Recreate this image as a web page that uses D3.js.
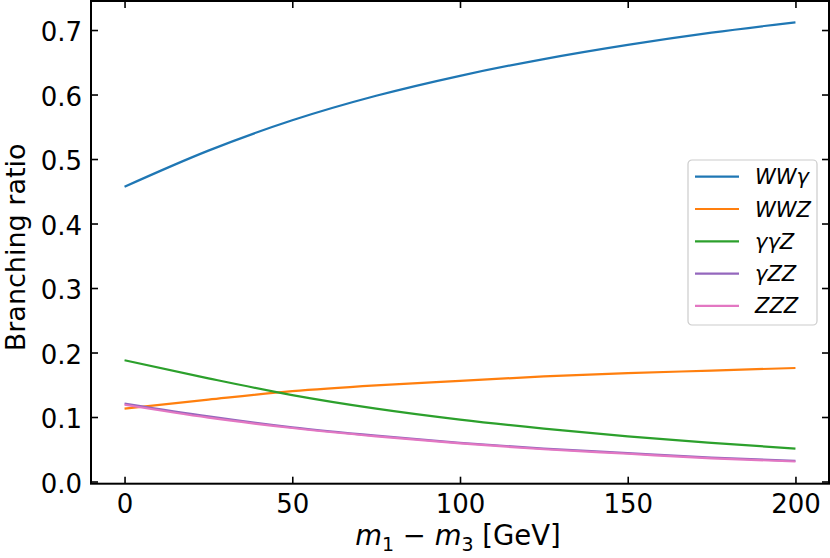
<!DOCTYPE html>
<html>
<head>
<meta charset="utf-8">
<script src="https://cdn.jsdelivr.net/npm/d3@7"></script>
<style>
body { margin: 0; background: #fff; }
svg { display: block; font-family: "DejaVu Sans", sans-serif; }
</style>
</head>
<body>
<svg id="chart" width="830" height="558"></svg>
<script>
// mass splitting m1 - m3 in GeV
var massDiff = [0, 25, 50, 75, 100, 125, 150, 175, 200];

var brWWgamma = [0.457, 0.513, 0.560, 0.598, 0.629, 0.655, 0.677, 0.696, 0.712];
var brWWZ     = [0.113, 0.127, 0.140, 0.149, 0.156, 0.163, 0.168, 0.172, 0.176];
var brGGZ     = [0.188, 0.160, 0.134, 0.113, 0.096, 0.082, 0.070, 0.060, 0.051];
var brGZZ     = [0.121, 0.101, 0.084, 0.071, 0.060, 0.051, 0.044, 0.037, 0.032];
var brZZZ     = [0.119, 0.099, 0.083, 0.070, 0.059, 0.050, 0.043, 0.036, 0.031];

var seriesNames  = ["WWγ", "WWZ", "γγZ", "γZZ", "ZZZ"];
var seriesColors = ["#1f77b4", "#ff7f0e", "#2ca02c", "#9467bd", "#e377c2"];
var seriesValues = [brWWgamma, brWWZ, brGGZ, brGZZ, brZZZ];

var xTicks = [0, 50, 100, 150, 200];
var yTicks = [0.0, 0.1, 0.2, 0.3, 0.4, 0.5, 0.6, 0.7];

var plotLeft = 91, plotRight = 829, plotTop = 1, plotBottom = 483.7;
var tickFont = 26;

var svg = d3.select("#chart");

var xScale = d3.scaleLinear().domain([-10, 210]).range([plotLeft, plotRight]);
var yScale = d3.scaleLinear().domain([-0.0034, 0.745]).range([plotBottom, plotTop]);

// lines
var lineGen = d3.line()
    .x(function (d) { return xScale(d.x); })
    .y(function (d) { return yScale(d.y); })
    .curve(d3.curveMonotoneX);

var lines = svg.append("g").attr("id", "lines");
seriesValues.forEach(function (vals, i) {
    var pts = massDiff.map(function (m, j) { return { x: m, y: vals[j] }; });
    lines.append("path")
        .datum(pts)
        .attr("fill", "none")
        .attr("stroke", seriesColors[i])
        .attr("stroke-width", 2.2)
        .attr("d", lineGen);
});

// axes, ticks pointing inwards on all four sides
function styleAxis(g, showText) {
    g.select(".domain").remove();
    g.selectAll(".tick line").attr("stroke", "#000").attr("stroke-width", 1.6);
    g.selectAll(".tick text")
        .attr("fill", "#000")
        .style("font-size", tickFont + "px")
        .style("font-family", "DejaVu Sans");
    if (!showText) g.selectAll(".tick text").remove();
}

svg.append("g")
    .attr("transform", "translate(0," + plotBottom + ")")
    .call(d3.axisBottom(xScale).tickValues(xTicks).tickSizeInner(-7).tickSizeOuter(0).tickPadding(11))
    .call(styleAxis, true);

svg.append("g")
    .attr("transform", "translate(0," + plotTop + ")")
    .call(d3.axisTop(xScale).tickValues(xTicks).tickSizeInner(-7).tickSizeOuter(0))
    .call(styleAxis, false);

var yAxis = svg.append("g")
    .attr("transform", "translate(" + plotLeft + ",0)")
    .call(d3.axisLeft(yScale).tickValues(yTicks).tickFormat(d3.format(".1f")).tickSizeInner(-7).tickSizeOuter(0).tickPadding(9))
    .call(styleAxis, true);
yAxis.selectAll(".tick text").attr("dy", "0.42em");

svg.append("g")
    .attr("transform", "translate(" + plotRight + ",0)")
    .call(d3.axisRight(yScale).tickValues(yTicks).tickSizeInner(-7).tickSizeOuter(0))
    .call(styleAxis, false);

// frame
svg.append("rect")
    .attr("x", plotLeft).attr("y", plotTop)
    .attr("width", plotRight - plotLeft).attr("height", plotBottom - plotTop)
    .attr("fill", "none").attr("stroke", "#000").attr("stroke-width", 2);

// axis labels
var xLabel = svg.append("text")
    .attr("x", (plotLeft + plotRight) / 2 - 2)
    .attr("y", 545)
    .attr("text-anchor", "middle")
    .style("font-size", "27.5px");
xLabel.append("tspan").style("font-style", "italic").text("m");
xLabel.append("tspan").attr("dy", 6).style("font-size", "19px").text("1");
xLabel.append("tspan").attr("dy", -6).text(" − ");
xLabel.append("tspan").style("font-style", "italic").text("m");
xLabel.append("tspan").attr("dy", 6).style("font-size", "19px").text("3");
xLabel.append("tspan").attr("dy", -6).text(" [GeV]");

svg.append("text")
    .attr("transform", "translate(24.5," + ((plotTop + plotBottom) / 2 + 5) + ") rotate(-90)")
    .attr("text-anchor", "middle")
    .style("font-size", "27px")
    .text("Branching ratio");

// legend
var legend = svg.append("g").attr("transform", "translate(688,160)");
legend.append("rect")
    .attr("width", 129).attr("height", 165)
    .attr("rx", 4)
    .attr("fill", "#fff").attr("fill-opacity", 0.8)
    .attr("stroke", "#cccccc").attr("stroke-width", 1.2);

var items = legend.selectAll("g.item")
    .data(seriesNames)
    .enter().append("g")
    .attr("class", "item")
    .attr("transform", function (d, i) { return "translate(0," + (16.7 + i * 32.3) + ")"; });

items.append("line")
    .attr("x1", 7).attr("x2", 51)
    .attr("stroke", function (d, i) { return seriesColors[i]; })
    .attr("stroke-width", 2.2);

items.append("text")
    .attr("x", 67)
    .attr("dy", "0.36em")
    .style("font-size", "21px")
    .style("font-style", "italic")
    .text(function (d) { return d; });
</script>
</body>
</html>
